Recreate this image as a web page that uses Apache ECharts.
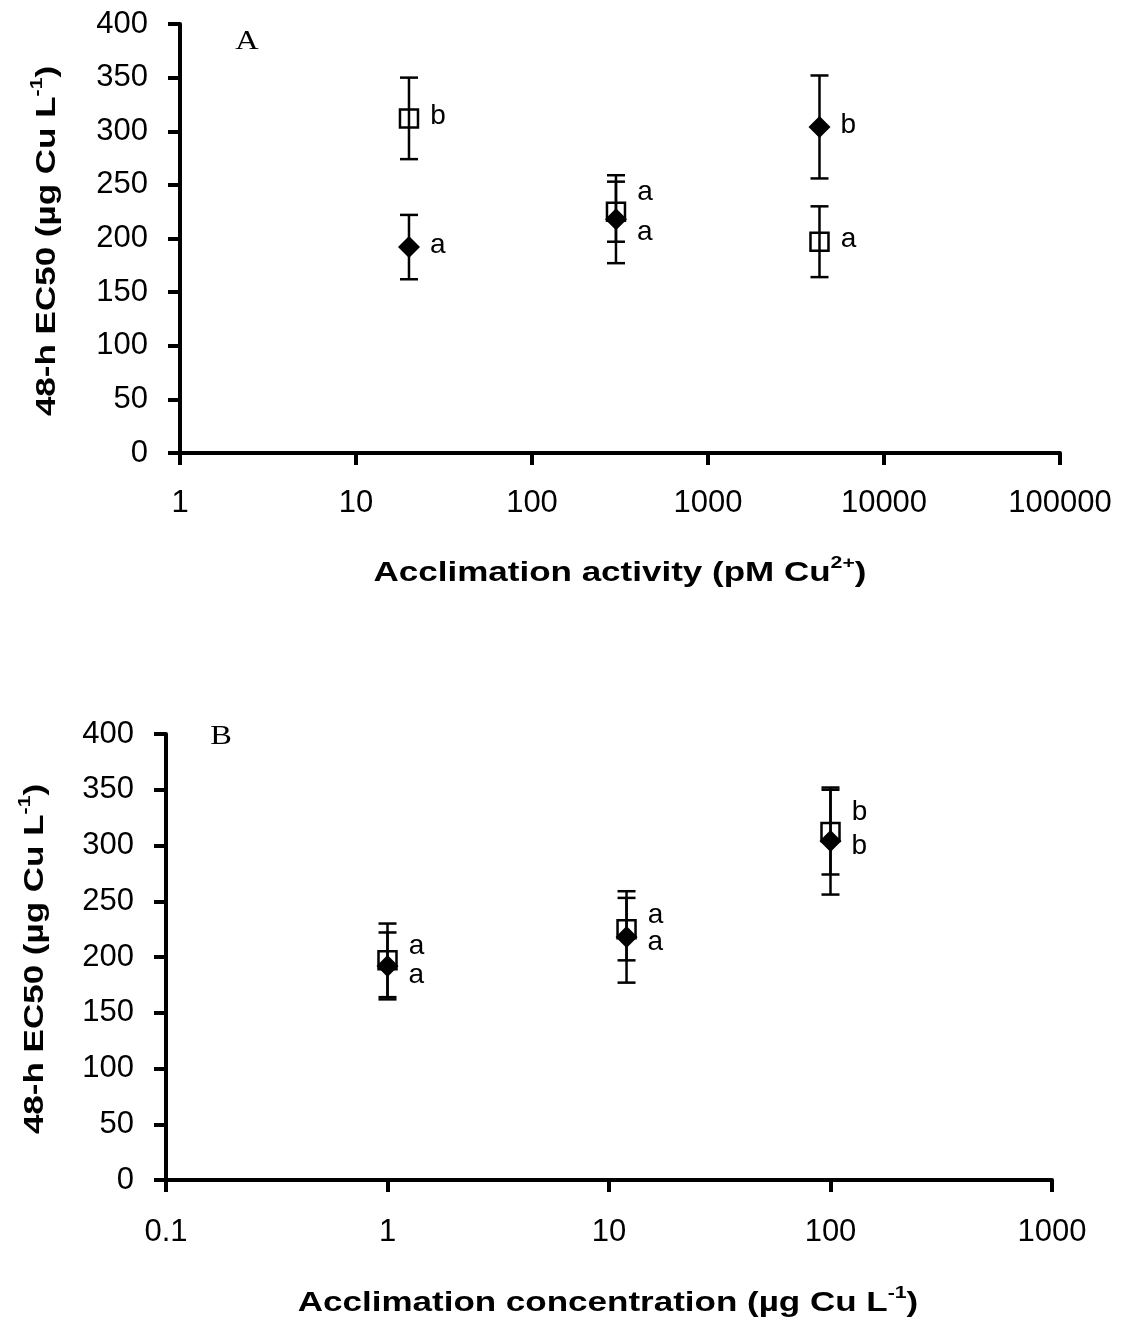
<!DOCTYPE html>
<html>
<head>
<meta charset="utf-8">
<script src="https://cdn.jsdelivr.net/npm/echarts@6/dist/echarts.min.js"></script>
<style>
  html, body { margin: 0; padding: 0; background: #fff; }
  #chart { width: 1122px; height: 1320px; }
</style>
</head>
<body>
<div id="chart"></div>
<script>
// 48-h EC50 (µg Cu L-1) for two acclimated groups: filled diamonds and open squares.
// Panel A plots them against free Cu2+ activity, panel B against total Cu concentration.

const diamondActivity = [20, 300, 4300];   // pM Cu2+
const diamondConc     = [1, 12, 100];      // µg Cu L-1
const diamondEC50     = [192, 218, 304];
const diamondErr      = [30, 41, 48];
const diamondLettersA = ['a', 'a', 'b'];
const diamondLettersB = ['a', 'a', 'b'];

const squareActivity  = [4300, 300, 20];   // pM Cu2+
const squareConc      = [1, 12, 100];      // µg Cu L-1
const squareEC50      = [197, 225, 312];
const squareErr       = [33, 28, 38];
const squareLettersA  = ['a', 'a', 'b'];
const squareLettersB  = ['a', 'a', 'b'];

const activityTicks = [1, 10, 100, 1000, 10000, 100000];
const concTicks     = [0.1, 1, 10, 100, 1000];
const ec50Ticks     = [0, 50, 100, 150, 200, 250, 300, 350, 400];

// vertical nudges (px) that keep letters of coinciding points apart
const squareNudgeA  = [0, -17, 0];
const diamondNudgeA = [0, 15, 0];
const squareNudgeB  = [-12, -12, -18];
const diamondNudgeB = [11, 7, 7];

const SANS  = 'Arial, "Liberation Sans", sans-serif';
const SERIF = '"Times New Roman", "Liberation Serif", serif';
const INK = '#000';

function fmtTick(v) {
  return String(+Number(v).toPrecision(8));
}

function xAxisDef(gridIndex, ticks, margin) {
  return {
    type: 'log', logBase: 10, gridIndex,
    min: ticks[0], max: ticks[ticks.length - 1], splitNumber: ticks.length - 1,
    axisLine: { show: true, onZero: false, lineStyle: { color: INK, width: 4 } },
    axisTick: { show: true, length: 12, lineStyle: { color: INK, width: 4 } },
    minorTick: { show: false },
    splitLine: { show: false },
    axisLabel: { fontSize: 31, fontFamily: SANS, color: INK, margin, formatter: fmtTick }
  };
}

function yAxisDef(gridIndex) {
  return {
    type: 'value', gridIndex,
    min: ec50Ticks[0], max: ec50Ticks[ec50Ticks.length - 1],
    interval: ec50Ticks[1] - ec50Ticks[0],
    axisLine: { show: true, onZero: false, lineStyle: { color: INK, width: 4 } },
    axisTick: { show: true, length: 12, lineStyle: { color: INK, width: 4 } },
    splitLine: { show: false },
    axisLabel: { fontSize: 31, fontFamily: SANS, color: INK, margin: 32 }
  };
}

function markerSeries(kind, xs, ys, letters, nudges, idx) {
  const isDiamond = kind === 'diamond';
  return {
    type: 'scatter', xAxisIndex: idx, yAxisIndex: idx,
    symbol: isDiamond ? 'diamond' : 'rect',
    symbolSize: isDiamond ? [22, 22] : 18,
    itemStyle: isDiamond
      ? { color: INK, opacity: 1 }
      : { color: 'rgba(0,0,0,0)', borderColor: INK, borderWidth: 2.5, opacity: 1 },
    z: isDiamond ? 4 : 2,
    silent: true,
    emphasis: { disabled: true },
    label: {
      show: true, position: 'right', distance: isDiamond ? 10 : 11,
      fontSize: 28, fontFamily: SANS, color: INK, opacity: 1,
      formatter: p => letters[p.dataIndex]
    },
    data: xs.map((x, i) => ({ value: [x, ys[i]], label: { offset: [0, nudges[i] - 2] } }))
  };
}

function errorSeries(xs, ys, errs, idx) {
  return {
    type: 'custom', xAxisIndex: idx, yAxisIndex: idx, z: 3, silent: true,
    data: xs.map((x, i) => [x, ys[i] - errs[i], ys[i] + errs[i]]),
    encode: { x: 0, y: [1, 2] },
    renderItem: (params, api) => {
      const x = api.value(0);
      const lo = api.coord([x, api.value(1)]);
      const hi = api.coord([x, api.value(2)]);
      const hw = 9;
      const style = { stroke: INK, lineWidth: 2.5, fill: null, opacity: 1 };
      return {
        type: 'group',
        children: [
          { type: 'line', shape: { x1: lo[0], y1: lo[1], x2: hi[0], y2: hi[1] }, style },
          { type: 'line', shape: { x1: lo[0] - hw, y1: lo[1], x2: lo[0] + hw, y2: lo[1] }, style },
          { type: 'line', shape: { x1: hi[0] - hw, y1: hi[1], x2: hi[0] + hw, y2: hi[1] }, style }
        ]
      };
    }
  };
}

function titleText(x, y, text, rotated) {
  return {
    type: 'text', x, y, rotation: rotated ? Math.PI / 2 : 0, scaleX: 1.25, z: 10,
    style: {
      text, fill: INK, fontSize: 28, fontWeight: 'bold', fontFamily: SANS, lineHeight: 36,
      align: 'center', verticalAlign: 'middle',
      rich: { sup: { fontSize: 17, fontWeight: 'bold', fontFamily: SANS, fill: INK, lineHeight: 18, verticalAlign: 'top' } }
    }
  };
}

function panelLetter(x, y, text) {
  return {
    type: 'text', x, y, z: 10, scaleX: 1.2,
    style: { text, fill: INK, fontSize: 27, fontFamily: SERIF, align: 'center', verticalAlign: 'middle' }
  };
}

const chart = echarts.init(document.getElementById('chart'), null, { renderer: 'canvas' });

chart.setOption({
  backgroundColor: '#fff',
  animation: false,
  grid: [
    { left: 180, top: 24, width: 880, height: 429 },
    { left: 166, top: 734, width: 886, height: 446 }
  ],
  xAxis: [xAxisDef(0, activityTicks, 35), xAxisDef(1, concTicks, 37)],
  yAxis: [yAxisDef(0), yAxisDef(1)],
  series: [
    markerSeries('square', squareActivity, squareEC50, squareLettersA, squareNudgeA, 0),
    errorSeries(squareActivity, squareEC50, squareErr, 0),
    errorSeries(diamondActivity, diamondEC50, diamondErr, 0),
    markerSeries('diamond', diamondActivity, diamondEC50, diamondLettersA, diamondNudgeA, 0),

    markerSeries('square', squareConc, squareEC50, squareLettersB, squareNudgeB, 1),
    errorSeries(squareConc, squareEC50, squareErr, 1),
    errorSeries(diamondConc, diamondEC50, diamondErr, 1),
    markerSeries('diamond', diamondConc, diamondEC50, diamondLettersB, diamondNudgeB, 1)
  ],
  graphic: [
    panelLetter(247, 42, 'A'),
    panelLetter(221, 737, 'B'),
    titleText(620, 573, 'Acclimation activity (pM Cu{sup|2+})', false),
    titleText(608, 1303, 'Acclimation concentration (µg Cu L{sup|-1})', false),
    titleText(47, 241, '48-h EC50 (µg Cu L{sup|-1})', true),
    titleText(35, 959, '48-h EC50 (µg Cu L{sup|-1})', true)
  ]
});
</script>
</body>
</html>
